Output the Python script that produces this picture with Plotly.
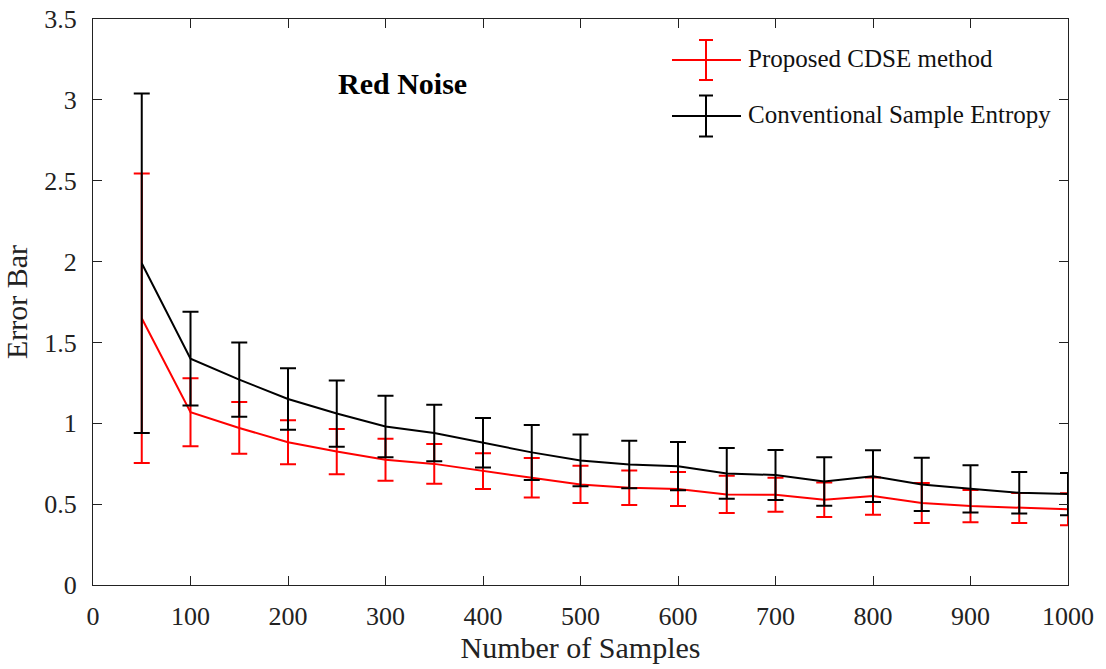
import plotly.graph_objects as go

# Sample sizes
samples = [50, 100, 150, 200, 250, 300, 350, 400, 450, 500,
           550, 600, 650, 700, 750, 800, 850, 900, 950, 1000]

# Proposed CDSE method: mean error and error-bar half width
cdse_mean = [1.65, 1.068, 0.971, 0.883, 0.825, 0.774, 0.749, 0.704, 0.663, 0.622,
             0.601, 0.593, 0.56, 0.558, 0.527, 0.55, 0.507, 0.488, 0.476, 0.468]
cdse_err = [0.895, 0.21, 0.16, 0.136, 0.14, 0.13, 0.123, 0.11, 0.122, 0.115,
            0.107, 0.105, 0.115, 0.105, 0.107, 0.115, 0.123, 0.1, 0.093, 0.099]

# Conventional sample entropy: mean error and error-bar half width
se_mean = [1.99, 1.40, 1.27, 1.15, 1.06, 0.98, 0.94, 0.88, 0.82, 0.77,
           0.745, 0.735, 0.69, 0.68, 0.64, 0.673, 0.622, 0.595, 0.57, 0.562]
se_err = [1.05, 0.29, 0.23, 0.19, 0.205, 0.19, 0.175, 0.153, 0.17, 0.16,
          0.147, 0.149, 0.157, 0.155, 0.15, 0.16, 0.165, 0.146, 0.128, 0.131]

series_names = ["Proposed CDSE method", "Conventional Sample Entropy"]
series_colors = ["#ff0000", "#000000"]

x_ticks = list(range(0, 1001, 100))
y_ticks = [0, 0.5, 1, 1.5, 2, 2.5, 3, 3.5]
y_ticklabels = ["0", "0.5", "1", "1.5", "2", "2.5", "3", "3.5"]

FONT = "Liberation Serif, Times New Roman, serif"
W, H = 1106, 669
ML, MR, MT, MB = 93, 38, 19, 84

fig = go.Figure()
for name, mean, err, color in [
    (series_names[0], cdse_mean, cdse_err, series_colors[0]),
    (series_names[1], se_mean, se_err, series_colors[1]),
]:
    fig.add_trace(go.Scatter(
        x=samples, y=mean, name=name, mode="lines",
        line=dict(color=color, width=2),
        error_y=dict(type="data", array=err, visible=True,
                     color=color, thickness=2, width=8),
        showlegend=False,
    ))

# Hand-drawn legend entries (pixel layout converted to paper units)
pw, ph = W - ML - MR, H - MT - MB


def px(xp):
    return (xp - ML) / pw


def py(yp):
    return (H - MB - yp) / ph


shapes = []
annotations = []
for (yc, half), name, color in zip([(60, 20), (116, 20.5)], series_names, series_colors):
    shapes.append(dict(type="line", xref="paper", yref="paper",
                       x0=px(672), x1=px(741), y0=py(yc), y1=py(yc),
                       line=dict(color=color, width=2)))
    shapes.append(dict(type="line", xref="paper", yref="paper",
                       x0=px(706), x1=px(706), y0=py(yc - half), y1=py(yc + half),
                       line=dict(color=color, width=2)))
    for yy in (yc - half, yc + half):
        shapes.append(dict(type="line", xref="paper", yref="paper",
                           x0=px(699), x1=px(713), y0=py(yy), y1=py(yy),
                           line=dict(color=color, width=2)))
    annotations.append(dict(xref="paper", yref="paper", x=px(746), y=py(yc - 1),
                            xanchor="left", yanchor="middle", text=name,
                            showarrow=False,
                            font=dict(family=FONT, size=25, color="#111")))

annotations.append(dict(xref="x", yref="y", x=317, y=3.10, text="<b>Red Noise</b>",
                        showarrow=False, xanchor="center", yanchor="middle",
                        font=dict(family=FONT, size=30, color="#000")))

axis_common = dict(
    showline=True, linecolor="#222", linewidth=1.3, mirror="ticks",
    ticks="inside", ticklen=9, tickwidth=1, tickcolor="#222",
    showgrid=False, zeroline=False, automargin=False,
    tickfont=dict(family=FONT, size=26, color="#222"),
)

fig.update_layout(
    width=W, height=H,
    margin=dict(l=ML, r=MR, t=MT, b=MB, autoexpand=False),
    paper_bgcolor="white", plot_bgcolor="white",
    xaxis=dict(range=[0, 1000], tickvals=x_ticks,
               title=dict(text="Number of Samples", standoff=6,
                          font=dict(family=FONT, size=30, color="#222")),
               ticklabelstandoff=8, **axis_common),
    yaxis=dict(range=[0, 3.5], tickvals=y_ticks, ticktext=y_ticklabels,
               title=dict(text="Error Bar", standoff=8,
                          font=dict(family=FONT, size=30, color="#222")),
               ticklabelstandoff=10, **axis_common),
    shapes=shapes,
    annotations=annotations,
)

fig.write_html("out.html")
